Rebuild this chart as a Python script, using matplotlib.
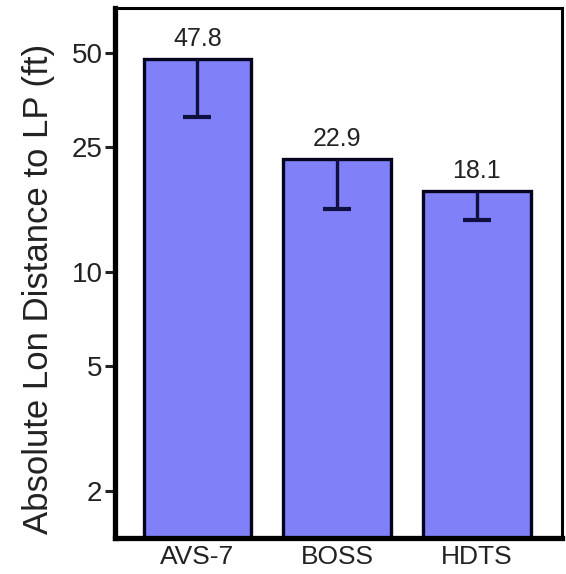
import matplotlib
matplotlib.use("Agg")
import matplotlib.pyplot as plt
import numpy as np

systems = ["AVS-7", "BOSS", "HDTS"]
mean_dist = [47.8, 22.9, 18.1]
lower_err = [16.5, 7.0, 3.4]
y_ticks = [2, 5, 10, 25, 50]

plt.rcParams["font.family"] = ["Liberation Sans", "DejaVu Sans"]

fig = plt.figure(figsize=(5.66, 5.74), dpi=100)
ax = fig.add_axes([0.203, 0.063, 0.79, 0.923])

x = np.arange(len(systems))
ax.bar(x, mean_dist, width=0.77, color="#8080f8", edgecolor="#050520",
       linewidth=2.4, zorder=2)
# only the lower half of each error bar is shown
_, caps, _ = ax.errorbar(x, mean_dist, yerr=[lower_err, [0] * len(x)], fmt="none",
                         ecolor="#101040", elinewidth=2.4, capsize=10, capthick=3,
                         zorder=3)
for cap in caps:
    if np.allclose(cap.get_ydata(), mean_dist):
        cap.set_visible(False)

for xi, v in zip(x, mean_dist):
    ax.annotate(f"{v:.1f}", (xi, v), xytext=(0, 6), textcoords="offset points",
                ha="center", va="bottom", fontsize=18, color="#222222")

ax.set_yscale("log")
ax.set_ylim(1.42, 69.5)
ax.set_xlim(-0.59, 2.61)
ax.set_yticks(y_ticks)
ax.set_yticklabels([str(t) for t in y_ticks])
ax.yaxis.set_minor_locator(matplotlib.ticker.NullLocator())
ax.set_xticks(x)
ax.set_xticklabels(systems)

ax.tick_params(axis="y", length=7, width=2.2, labelsize=20, pad=2, colors="#222222")
ax.tick_params(axis="x", length=0, labelsize=19, pad=5, colors="#222222")
ax.set_ylabel("Absolute Lon Distance to LP (ft)", fontsize=25, color="#222222")
ax.yaxis.set_label_coords(-0.135, 0.47)

ax.spines["left"].set_linewidth(3.8)
ax.spines["bottom"].set_linewidth(3.8)
ax.spines["top"].set_linewidth(2.2)
ax.spines["right"].set_linewidth(2.2)
for s in ax.spines.values():
    s.set_color("black")

fig.savefig("out.png", dpi=100)
